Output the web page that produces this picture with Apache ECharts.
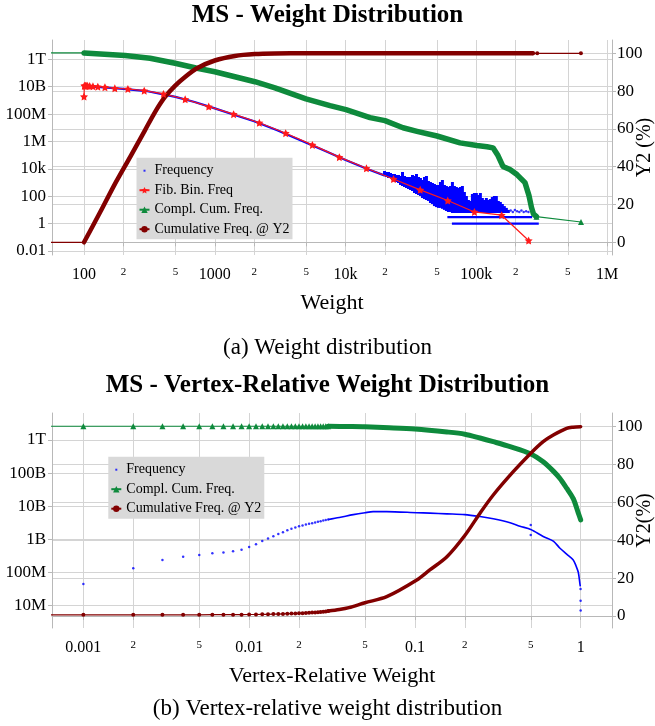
<!DOCTYPE html>
<html>
<head>
<meta charset="utf-8">
<title>MS - Weight Distribution</title>
<script src="https://cdn.jsdelivr.net/npm/echarts@6/dist/echarts.min.js"></script>
<style>
  html, body { margin: 0; padding: 0; background: #fff; }
  #chart { width: 655px; height: 726px; }
</style>
</head>
<body>
<div id="chart"></div>
<script>
// ---------- (a) weight distribution ----------
// blue frequency: smooth part, noisy cloud (low/high per column), floor rows, loose dots
var freqCurveX = [100, 150, 200, 300, 500, 700, 1000, 1500, 2000, 3000, 5000, 7000, 10000, 15000, 20000];
var freqCurveY = [1.12e10, 8.5e9, 6.9e9, 4.8e9, 1.8e9, 7.6e8, 2.6e8, 7.2e7, 2.95e7, 6.6e6, 8e5, 2e5, 4.4e4, 8.9e3, 3.2e3];
var cloudX = [19850, 20560, 21290, 22060, 22850, 23660, 24510, 25390, 26290, 27230, 28210, 29220, 30260, 31340,
  32470, 33630, 34830, 36080, 37370, 38700, 40090, 41520, 43010, 44550, 46140, 47790, 49500, 51270, 53110, 55010,
  56980, 59020, 61130, 63320, 65580, 67930, 70360, 72880, 75490, 78190, 80990, 83880, 86890, 90000, 93220, 96550,
  100000, 103580, 107290, 111130, 115100, 119230, 123490, 127910, 132490, 137230, 142140, 147230, 152500, 157950,
  163610, 169460, 175530];
var cloudHi = [6930, 5860, 5860, 4950, 4190, 4190, 3540, 3540, 2990, 5860, 2990, 2530, 2530, 2530, 3540, 2990, 4190,
  2530, 2140, 1530, 2530, 2990, 1290, 1090, 921, 778, 658, 658, 1090, 1530, 658, 556, 470, 556, 1090, 556, 470, 397,
  470, 556, 203, 103, 53, 45, 145, 171, 171, 122, 171, 74, 53, 74, 53, 62, 87, 103, 103, 45, 38, 27, 19, 14, 10];
var cloudLo = [2990, 2530, 2140, 2140, 1530, 1290, 1090, 921, 658, 556, 470, 397, 336, 284, 240, 171, 145, 122, 103,
  74, 62, 53, 45, 32, 27, 19, 16, 14, 14, 12, 10, 8.3, 7, 7, 5.9, 5.9, 5.9, 5.9, 5.9, 5.9, 5.9, 5.9, 5.9, 5.9, 5.9,
  5.9, 5.9, 5.9, 5.9, 5.9, 5.9, 5.9, 5.9, 5.9, 5.9, 5.9, 5.9, 5.9, 5.9, 5.9, 5.9, 5.9, 5.9];
var floorLevel = [3, 1];
var floorFrom = [60000, 65000];
var floorTo = [267000, 300000];
var freqDotX = [183000, 190000, 197000, 205000, 213000, 221000, 230000, 240000, 250000];
var freqDotY = [9, 7, 10, 8, 7, 9, 7, 8, 7];

var fibX = [100, 100.5, 101.5, 102.5, 104, 106.5, 110.5, 117, 127.5, 144.5, 172, 216.5, 288.5, 405, 593.5, 898.5,
  1392, 2190, 3482, 5573, 8955, 14430, 23240, 37200, 60400, 96600, 156000, 251000];
var fibY = [1.9e9, 1.17e10, 1.17e10, 1.17e10, 1.17e10, 1.17e10, 1.12e10, 1.07e10, 1.0e10, 9.1e9, 7.6e9, 6.8e9,
  5.1e9, 2.95e9, 1.2e9, 3.5e8, 9.8e7, 2.3e7, 4.0e6, 5.6e5, 7.1e4, 1.1e4, 1.8e3, 290, 48, 7.1, 4.1, 0.058];

// first point sits left of the plot (line runs in from the edge)
var ccfX = [1, 100, 206, 320, 497, 718, 1000, 2027, 2884, 4977, 7600, 10070, 15380, 20000, 27480, 35160, 50000,
  75000, 101000, 120600, 134000, 146300, 159700, 180600, 204300, 235300, 252500, 263900, 273400, 288000, 631000];
var ccfY = [2.9e12, 2.9e12, 1.9e12, 1.18e12, 5.1e11, 2.3e11, 1.23e11, 2.3e10, 8.3e9, 1.3e9, 4.1e8, 2.1e8, 5.5e7,
  3.3e7, 1.0e7, 5.5e6, 2.5e6, 7.9e5, 5.0e5, 4.1e5, 3.4e5, 9.3e4, 1.5e4, 8.9e3, 3.8e3, 980, 110, 15, 5, 3.2, 1.3];

var cumX = [1, 100, 133, 172, 225, 293, 349, 416, 496, 592, 731, 1000, 1424, 2027, 2884, 5000, 10000, 30000,
  100000, 270000, 292000, 630000];
var cumY = [0, 0, 16, 30.8, 45.1, 59.4, 68.9, 76.9, 82.8, 87.5, 92.1, 96.2, 98.6, 99.6, 99.9, 100, 100, 100,
  100, 100, 100, 100];

var xTicksA = [100, 200, 500, 1000, 2000, 5000, 1e4, 2e4, 5e4, 1e5, 2e5, 5e5, 1e6];
var yTicksA = [0.01, 1, 100, 1e4, 1e6, 1e8, 1e10, 1e12];

// ---------- (b) vertex-relative weight distribution ----------
var relX = [0.001, 0.002, 0.003, 0.004, 0.005, 0.006, 0.007, 0.008, 0.009, 0.010, 0.011, 0.012, 0.013, 0.014, 0.015,
  0.016, 0.017, 0.018, 0.019, 0.020, 0.021, 0.022, 0.023, 0.024, 0.025, 0.026, 0.027, 0.028, 0.029, 0.030];
var freqBY = [4.5e7, 1.35e8, 2.4e8, 3.0e8, 3.4e8, 3.8e8, 4.0e8, 4.4e8, 4.9e8, 5.9e8, 7.1e8, 8.9e8, 1.07e9, 1.25e9,
  1.45e9, 1.65e9, 1.9e9, 2.1e9, 2.3e9, 2.5e9, 2.65e9, 2.8e9, 2.95e9, 3.1e9, 3.25e9, 3.4e9, 3.55e9, 3.7e9, 3.85e9, 4.0e9];
var freqBOutX = [0.5, 0.5, 0.998, 0.999, 1.0];
var freqBOutY = [2.7e9, 1.35e9, 3.2e7, 1.4e7, 7.1e6];
var freqBLineX = [0.03, 0.035, 0.0425, 0.05, 0.056, 0.0676, 0.1026, 0.123, 0.156, 0.2, 0.247, 0.297, 0.375, 0.43,
  0.5, 0.594, 0.684, 0.75, 0.823, 0.902, 0.937, 0.968, 0.99, 0.995];
var freqBLineY = [4.0e9, 4.6e9, 5.6e9, 6.4e9, 6.9e9, 6.9e9, 6.4e9, 6.2e9, 5.9e9, 5.6e9, 4.9e9, 4.2e9, 3.2e9, 2.5e9,
  2.0e9, 1.23e9, 8.9e8, 5.4e8, 3.6e8, 2.4e8, 1.6e8, 1.0e8, 4.5e7, 3.8e7];

var ccfBSparse = [2.6e12, 2.6e12, 2.6e12, 2.6e12, 2.6e12, 2.6e12, 2.6e12, 2.6e12, 2.6e12, 2.6e12, 2.6e12, 2.6e12,
  2.6e12, 2.6e12, 2.6e12, 2.6e12, 2.6e12, 2.6e12, 2.6e12, 2.6e12, 2.6e12, 2.6e12, 2.6e12, 2.6e12, 2.6e12, 2.6e12,
  2.6e12, 2.6e12, 2.6e12, 2.6e12];
var ccfBDenseX = [0.03, 0.04, 0.05, 0.07, 0.1, 0.156, 0.2, 0.247, 0.297, 0.375, 0.5, 0.594, 0.684, 0.75, 0.823,
  0.902, 0.968, 1.0];
var ccfBDenseY = [2.6e12, 2.55e12, 2.5e12, 2.35e12, 2.15e12, 1.75e12, 1.5e12, 1.15e12, 8.9e11, 6.3e11, 3.8e11,
  2.2e11, 1.15e11, 6.9e10, 3.5e10, 1.7e10, 6.2e9, 3.9e9];

var cumBSparse = [0.6, 0.6, 0.6, 0.6, 0.6, 0.7, 0.7, 0.7, 0.7, 0.8, 0.8, 0.9, 0.9, 1.0, 1.0, 1.1, 1.2, 1.3, 1.3,
  1.4, 1.5, 1.6, 1.7, 1.8, 1.9, 2.0, 2.1, 2.3, 2.4, 2.6];
var cumBDenseX = [0.03, 0.035, 0.04, 0.05, 0.0676, 0.1026, 0.123, 0.156, 0.2, 0.247, 0.297, 0.392, 0.5, 0.594,
  0.684, 0.823, 0.9, 1.0];
var cumBDenseY = [2.6, 3.4, 4.4, 7, 10.2, 19, 24.3, 31.3, 42.5, 54.3, 63.9, 76.2, 86, 92.1, 95.6, 99.1, 99.7, 100];
var offLeftB = 0.0001;

var xTicksB = [0.001, 0.002, 0.005, 0.01, 0.02, 0.05, 0.1, 0.2, 0.5, 1];
var yTicksB = [1e7, 1e8, 1e9, 1e10, 1e11, 1e12];
var y2Ticks = [0, 20, 40, 60, 80, 100];

// ---------- styling ----------
var SERIF = 'Liberation Serif';
var BLUE = '#0000ff', RED = '#ff1a1a', GREEN = '#0e8a3c', DARKRED = '#820000';
var AXIS_C = '#b8b8b8', GRID_C = '#d4d4d4';
var STAR = 'path://M0,-10L2.94,-4.05L9.51,-3.09L4.76,1.55L5.88,8.09L0,5L-5.88,8.09L-4.76,1.55L-9.51,-3.09L-2.94,-4.05Z';
var DOT = 'path://M0,0M10,8M4,3L6,3L6,5L4,5Z';

function pts(xs, ys) { return xs.map(function (x, i) { return [x, ys[i]]; }); }
function clean(v) { return parseFloat(Number(v).toPrecision(6)); }
function isPow10(v) { var l = Math.log10(v); return Math.abs(l - Math.round(l)) < 1e-6; }
function fmtBig(v) {
  v = clean(v);
  if (v >= 1e12) return (v / 1e12) + 'T';
  if (v >= 1e9) return (v / 1e9) + 'B';
  if (v >= 1e6) return (v / 1e6) + 'M';
  if (v >= 1e4) return (v / 1e3) + 'k';
  return String(v);
}
function xLabel(v) {
  v = clean(v);
  if (isPow10(v)) return '{maj|' + fmtBig(v) + '}';
  return '{mnr|' + Math.round(v / Math.pow(10, Math.floor(Math.log10(v) + 1e-9))) + '}';
}

function xAxisLog(grid, min, max, ticks, name) {
  return {
    type: 'log', gridIndex: grid, min: min, max: max,
    name: name, nameLocation: 'middle', nameGap: 37, nameMoveOverlap: false,
    nameTextStyle: { fontFamily: SERIF, fontSize: 22, color: '#000' },
    axisLine: { show: true, lineStyle: { color: AXIS_C } },
    axisTick: { show: true, length: 4, customValues: ticks, lineStyle: { color: AXIS_C } },
    axisLabel: {
      customValues: ticks, margin: 12, formatter: xLabel, fontFamily: SERIF, color: '#000',
      rich: {
        maj: { fontFamily: SERIF, fontSize: 16, color: '#000' },
        mnr: { fontFamily: SERIF, fontSize: 11, color: '#000' }
      }
    },
    splitLine: { show: true, lineStyle: { color: GRID_C } },
    minorTick: { show: false }, minorSplitLine: { show: false }
  };
}
function yAxisLog(grid, min, max, ticks) {
  return {
    type: 'log', gridIndex: grid, position: 'left', min: min, max: max,
    axisLine: { show: true, lineStyle: { color: AXIS_C } },
    axisTick: { show: true, length: 4, customValues: ticks, lineStyle: { color: AXIS_C } },
    axisLabel: { customValues: ticks, formatter: fmtBig, margin: 6, fontFamily: SERIF, fontSize: 17, color: '#000' },
    splitLine: { show: true, lineStyle: { color: GRID_C } },
    minorTick: { show: false }, minorSplitLine: { show: false }
  };
}
function yAxisPct(grid, min, max, name) {
  return {
    type: 'value', gridIndex: grid, position: 'right', min: min, max: max,
    name: name, nameLocation: 'middle', nameRotate: 90, nameGap: 23, nameMoveOverlap: false,
    nameTextStyle: { fontFamily: SERIF, fontSize: 20, color: '#000' },
    axisLine: { show: true, lineStyle: { color: AXIS_C } },
    axisTick: { show: true, length: 4, customValues: y2Ticks, lineStyle: { color: AXIS_C } },
    axisLabel: { customValues: y2Ticks, margin: 5, fontFamily: SERIF, fontSize: 17, color: '#000' },
    splitLine: { show: true, lineStyle: { color: GRID_C } }
  };
}
function legendBox(left, top, names) {
  return {
    orient: 'vertical', left: left, top: top, selectedMode: false,
    backgroundColor: '#d9d9d9', borderWidth: 0, borderRadius: 0,
    padding: [5, 3, 2, 2], itemWidth: 10, itemHeight: 8, itemGap: 3.5,
    textStyle: { fontFamily: SERIF, fontSize: 14, lineHeight: 16, color: '#000' },
    data: names.map(function (n) { return n === 'Frequency' ? { name: n, icon: DOT } : n; })
  };
}
function renderCloud(params, api) {
  var a = api.coord([api.value(0), api.value(1)]);
  var b = api.coord([api.value(0), api.value(2)]);
  return {
    type: 'line',
    shape: { x1: a[0], y1: a[1], x2: b[0], y2: b[1] },
    style: { stroke: BLUE, lineWidth: 3 }
  };
}
function thinLine(name, xi, yi, data, color, symbol, size) {
  return {
    name: name, type: 'line', xAxisIndex: xi, yAxisIndex: yi, data: data,
    symbol: symbol, symbolSize: size, showSymbol: symbol !== 'none', showAllSymbol: true,
    lineStyle: { color: color, width: 1.2 }, itemStyle: { color: color }
  };
}
function thickLine(name, xi, yi, data, color, width, smooth) {
  return {
    name: name, type: 'line', xAxisIndex: xi, yAxisIndex: yi, data: data, z: 3,
    smooth: smooth, symbol: 'none', showSymbol: false,
    lineStyle: { color: color, width: width, join: 'round', cap: 'round' }, itemStyle: { color: color }
  };
}

var ccfA = pts(ccfX, ccfY);
var cumA = pts(cumX, cumY);
var ccfBSp = [[offLeftB, ccfBSparse[0]]].concat(pts(relX, ccfBSparse));
var cumBSp = [[offLeftB, cumBSparse[0]]].concat(pts(relX, cumBSparse));

var series = [
  { name: 'Frequency', type: 'scatter', xAxisIndex: 0, yAxisIndex: 0, data: pts(freqDotX, freqDotY),
    symbolSize: 2.5, itemStyle: { color: BLUE } },
  { name: 'Frequency', type: 'line', xAxisIndex: 0, yAxisIndex: 0, data: pts(freqCurveX, freqCurveY),
    symbol: 'none', lineStyle: { color: BLUE, width: 2.2 }, itemStyle: { color: BLUE } },
  { name: 'Frequency', type: 'custom', xAxisIndex: 0, yAxisIndex: 0, renderItem: renderCloud, clip: true,
    encode: { x: 0, y: [1, 2] }, itemStyle: { color: BLUE },
    data: cloudX.map(function (x, i) { return [x, cloudLo[i], cloudHi[i]]; }) }
];
floorLevel.forEach(function (lv, i) {
  series.push({ name: 'Frequency', type: 'line', xAxisIndex: 0, yAxisIndex: 0,
    data: [[floorFrom[i], lv], [floorTo[i], lv]], symbol: 'none',
    lineStyle: { color: BLUE, width: 2.2 }, itemStyle: { color: BLUE } });
});
series.push(
  thinLine('Fib. Bin. Freq', 0, 0, pts(fibX, fibY), RED, STAR, 8),
  // tail with markers first so the legend takes its look
  thinLine('Compl. Cum. Freq.', 0, 0, ccfA.slice(29), GREEN, 'triangle', 6),
  thinLine('Compl. Cum. Freq.', 0, 0, ccfA.slice(0, 2), GREEN, 'none', 0),
  thickLine('Compl. Cum. Freq.', 0, 0, ccfA.slice(1, 30), GREEN, 5.5, false),
  thinLine('Cumulative Freq. @ Y2', 0, 1, cumA.slice(19), DARKRED, 'circle', 4),
  thinLine('Cumulative Freq. @ Y2', 0, 1, cumA.slice(0, 2), DARKRED, 'none', 0),
  thickLine('Cumulative Freq. @ Y2', 0, 1, cumA.slice(1, 20), DARKRED, 4.5, 0.25),

  { name: 'Frequency', type: 'scatter', xAxisIndex: 1, yAxisIndex: 2,
    data: pts(relX, freqBY).concat(pts(freqBOutX, freqBOutY)), symbolSize: 2.5, itemStyle: { color: BLUE } },
  { name: 'Frequency', type: 'line', xAxisIndex: 1, yAxisIndex: 2, data: pts(freqBLineX, freqBLineY),
    smooth: 0.3, symbol: 'none', lineStyle: { color: BLUE, width: 1.6 }, itemStyle: { color: BLUE } },
  thinLine('Compl. Cum. Freq.', 1, 2, ccfBSp, GREEN, 'triangle', 6),
  thickLine('Compl. Cum. Freq.', 1, 2, pts(ccfBDenseX, ccfBDenseY), GREEN, 5, 0.3),
  thinLine('Cumulative Freq. @ Y2', 1, 3, cumBSp, DARKRED, 'circle', 4),
  thickLine('Cumulative Freq. @ Y2', 1, 3, pts(cumBDenseX, cumBDenseY), DARKRED, 3.5, 0.3)
);

var titleFont = { fontFamily: SERIF, fontWeight: 'bold', fontSize: 25, color: '#000' };
var capFont = { fontFamily: SERIF, fontWeight: 'normal', fontSize: 23, color: '#000' };

var chart = echarts.init(document.getElementById('chart'));
chart.setOption({
  animation: false,
  backgroundColor: '#fff',
  title: [
    { text: 'MS - Weight Distribution', left: 'center', top: 3, padding: 0, textStyle: titleFont },
    { text: '(a) Weight distribution', left: 'center', top: 336, padding: 0, textStyle: capFont },
    { text: 'MS - Vertex-Relative Weight Distribution', left: 'center', top: 373, padding: 0, textStyle: titleFont },
    { text: '(b) Vertex-relative weight distribution', left: 'center', top: 697, padding: 0, textStyle: capFont }
  ],
  legend: [
    legendBox(136.5, 157.7, ['Frequency', 'Fib. Bin. Freq', 'Compl. Cum. Freq.', 'Cumulative Freq. @ Y2']),
    legendBox(108.3, 456.7, ['Frequency', 'Compl. Cum. Freq.', 'Cumulative Freq. @ Y2'])
  ],
  grid: [
    { left: 52, top: 40, width: 560, height: 215, containLabel: false, outerBoundsMode: 'none' },
    { left: 52, top: 413, width: 560, height: 215, containLabel: false, outerBoundsMode: 'none' }
  ],
  xAxis: [
    xAxisLog(0, 56.9, 1.089e6, xTicksA, 'Weight'),
    xAxisLog(1, 6.47e-4, 1.545, xTicksB, 'Vertex-Relative Weight')
  ],
  yAxis: [
    yAxisLog(0, 5.07e-3, 2.57e13, yTicksA),
    yAxisPct(0, -6.72, 107.04, 'Y2 (%)'),
    yAxisLog(1, 2.12e6, 6.53e12, yTicksB),
    yAxisPct(1, -6.34, 107.2, 'Y2(%)')
  ],
  series: series
});
</script>
</body>
</html>
